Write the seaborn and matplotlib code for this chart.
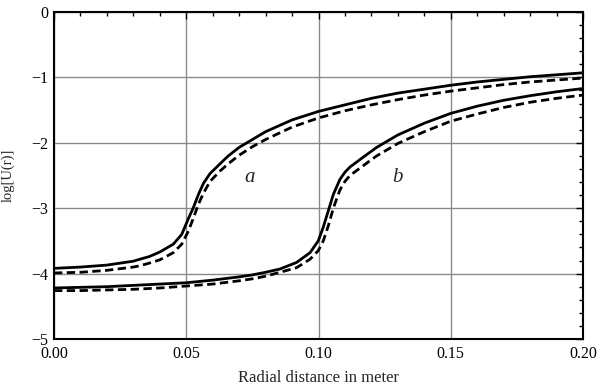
import numpy as np
import pandas as pd
import matplotlib
matplotlib.use("Agg")
import matplotlib.pyplot as plt
import seaborn as sns
from matplotlib.ticker import MultipleLocator, FormatStrFormatter

# ---- data ----
xa = [0.0, 0.01, 0.02, 0.03, 0.0325, 0.036, 0.04, 0.0451, 0.0483, 0.0508, 0.0527, 0.0546,
      0.0565, 0.059, 0.0628, 0.0659, 0.07, 0.075, 0.08, 0.09, 0.10, 0.11, 0.12, 0.13,
      0.14, 0.15, 0.16, 0.17, 0.18, 0.19, 0.20]
a_solid = [-3.92, -3.90, -3.87, -3.81, -3.78, -3.74, -3.67, -3.55, -3.40, -3.16, -2.99, -2.79,
           -2.62, -2.47, -2.32, -2.20, -2.07, -1.95, -1.83, -1.65, -1.52, -1.42, -1.32, -1.24,
           -1.18, -1.12, -1.07, -1.03, -0.99, -0.96, -0.93]
a_dashed = [-3.99, -3.98, -3.95, -3.90, -3.88, -3.84, -3.79, -3.68, -3.55, -3.35, -3.15, -2.94,
            -2.77, -2.59, -2.43, -2.32, -2.19, -2.06, -1.95, -1.76, -1.62, -1.51, -1.42, -1.34,
            -1.27, -1.21, -1.16, -1.11, -1.07, -1.04, -1.01]

xb = [0.0, 0.01, 0.02, 0.03, 0.04, 0.05, 0.06, 0.07, 0.075, 0.08, 0.0854, 0.0917, 0.0968,
      0.0999, 0.1018, 0.1037, 0.1056, 0.1081, 0.110, 0.1119, 0.1169, 0.122, 0.13,
      0.14, 0.15, 0.16, 0.17, 0.18, 0.19, 0.20]
b_solid = [-4.22, -4.21, -4.20, -4.18, -4.16, -4.14, -4.10, -4.05, -4.02, -3.98, -3.93, -3.83, -3.68,
           -3.50, -3.29, -3.04, -2.79, -2.56, -2.45, -2.37, -2.22, -2.07, -1.88,
           -1.70, -1.55, -1.44, -1.35, -1.28, -1.22, -1.17]
b_dashed = [-4.26, -4.26, -4.25, -4.24, -4.22, -4.19, -4.16, -4.11, -4.08, -4.04, -3.98, -3.91, -3.78,
            -3.65, -3.50, -3.27, -3.00, -2.72, -2.59, -2.50, -2.35, -2.20, -2.01,
            -1.83, -1.67, -1.56, -1.46, -1.38, -1.32, -1.27]

curve_labels = ["a", "b"]
label_x = [0.074, 0.1297]
label_y = [-2.53, -2.53]

xticks = [0.00, 0.05, 0.10, 0.15, 0.20]
yticks = [0, -1, -2, -3, -4, -5]

# ---- build tidy frame ----
frames = []
for x, y, name in [(xa, a_solid, "a_solid"), (xa, a_dashed, "a_dashed"),
                   (xb, b_solid, "b_solid"), (xb, b_dashed, "b_dashed")]:
    frames.append(pd.DataFrame({"x": x, "y": y, "curve": name}))
df = pd.concat(frames, ignore_index=True)

sns.set_style("white")
plt.rcParams["font.family"] = ["Liberation Serif", "DejaVu Serif"]

fig = plt.figure(figsize=(6.0, 3.87), dpi=100)
ax = fig.add_axes([54 / 600, 1 - 339 / 387, (583 - 54) / 600, (339 - 12) / 387])

ax.set_xlim(0, 0.2)
ax.set_ylim(-5, 0)
ax.grid(True, color="#8a8a8a", linewidth=1.0)
ax.set_axisbelow(True)

for name in ["a_solid", "b_solid"]:
    sns.lineplot(data=df[df.curve == name], x="x", y="y", ax=ax, color="black",
                 linewidth=2.0, sort=False, estimator=None)
for name in ["a_dashed", "b_dashed"]:
    sns.lineplot(data=df[df.curve == name], x="x", y="y", ax=ax, color="black",
                 linewidth=2.0, sort=False, estimator=None, dashes=False,
                 linestyle=(0, (3.0, 1.6)))
for line in ax.get_lines():
    line.set_solid_joinstyle("round")
    line.set_dash_joinstyle("round")

for t, lx, ly in zip(curve_labels, label_x, label_y):
    ax.text(lx, ly, t, fontsize=15, style="italic", ha="center", va="center",
            family=["Liberation Serif"])

ax.set_xticks(xticks)
ax.set_yticks(yticks)
ax.xaxis.set_major_formatter(FormatStrFormatter("%.2f"))
ax.set_yticklabels([("\u2212%d" % -v) if v < 0 else "%d" % v for v in yticks])
ax.xaxis.set_minor_locator(MultipleLocator(0.01))
ax.yaxis.set_minor_locator(MultipleLocator(0.2))
ax.tick_params(which="both", direction="in", top=True, right=True, colors="black",
               labelsize=11.5, width=1.0)
ax.tick_params(which="major", length=5, pad=4)
ax.tick_params(axis="x", which="major", pad=5)
ax.tick_params(which="minor", length=3)
for s in ax.spines.values():
    s.set_color("black")
    s.set_linewidth(1.5)

ax.set_xlabel("Radial distance in meter", fontsize=12, labelpad=6)
ax.set_ylabel("log[U(r)]", fontsize=10.5, labelpad=12)

fig.savefig("out.png", dpi=100)
